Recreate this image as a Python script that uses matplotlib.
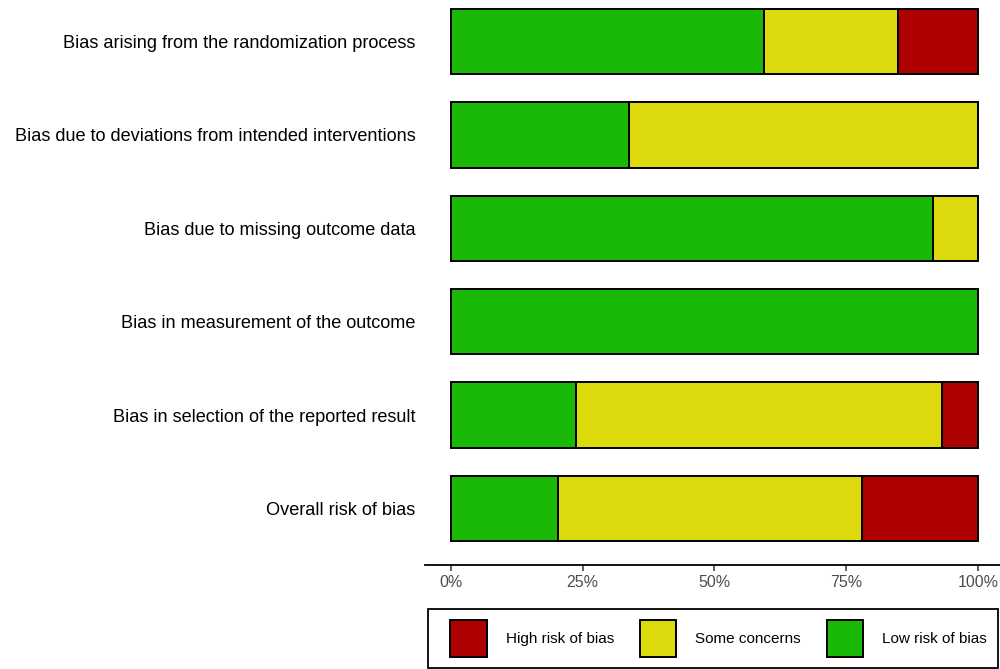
import matplotlib.pyplot as plt
import numpy as np
from matplotlib.patches import Patch, Rectangle
from matplotlib.legend_handler import HandlerPatch

plt.rcParams['font.family'] = ['Liberation Sans', 'DejaVu Sans']

domains = [
    "Bias arising from the randomization process",
    "Bias due to deviations from intended interventions",
    "Bias due to missing outcome data",
    "Bias in measurement of the outcome",
    "Bias in selection of the reported result",
    "Overall risk of bias",
]
# share of studies per judgement (fractions)
low = [0.594, 0.339, 0.915, 1.000, 0.237, 0.203]
some = [0.254, 0.661, 0.085, 0.000, 0.695, 0.577]
high = [0.152, 0.000, 0.000, 0.000, 0.068, 0.220]

judgements = ["High risk of bias", "Some concerns", "Low risk of bias"]
colors = {"Low risk of bias": "#1ab807", "Some concerns": "#dcda0c", "High risk of bias": "#ae0000"}


def key_rect(legend, orig_handle, xdescent, ydescent, width, height, fontsize):
    # square key pushed to the right end of the handle box
    return Rectangle((-xdescent + width - height, -ydescent), height, height)


fig = plt.figure(figsize=(10, 6.69), dpi=100)
ax = fig.add_axes([0.425, 1 - 565 / 669, 0.575, 565 / 669])

y = np.arange(len(domains))
left = np.zeros(len(domains))
for name, vals in [("Low risk of bias", low), ("Some concerns", some), ("High risk of bias", high)]:
    vals = np.array(vals)
    ax.barh(y, vals, left=left, height=0.7, color=colors[name],
            edgecolor="black", linewidth=1.4)
    left += vals

ax.set_xlim(-0.049, 1.042)
ax.set_ylim(5.605, -0.444)
ax.set_yticks(y)
ax.set_yticklabels(domains, fontsize=13.1, color="black")
ax.tick_params(axis="y", length=0, pad=7)
ax.set_xticks([0, 0.25, 0.5, 0.75, 1.0])
ax.set_xticklabels(["0%", "25%", "50%", "75%", "100%"], fontsize=11.5, color="#4d4d4d")
ax.tick_params(axis="x", length=4, width=1.1, color="#333333", pad=3.5)
for s in ["top", "right", "left"]:
    ax.spines[s].set_visible(False)
ax.spines["bottom"].set_linewidth(1.3)
ax.spines["bottom"].set_color("black")

handles = [Patch(facecolor=colors[j], edgecolor="black", linewidth=1.4) for j in judgements]
leg = fig.legend(handles, judgements, loc="lower left", ncol=3,
                 bbox_to_anchor=(428 / 1000, 1 / 669, 570 / 1000, 60 / 669),
                 mode="expand", fontsize=11, frameon=True, fancybox=False,
                 framealpha=1, edgecolor="black",
                 handlelength=3.14, handleheight=3.3, handletextpad=1.25,
                 borderaxespad=0, borderpad=0.72,
                 handler_map={Patch: HandlerPatch(patch_func=key_rect)})
leg.get_frame().set_linewidth(1.3)

fig.savefig("out.png", dpi=100)
